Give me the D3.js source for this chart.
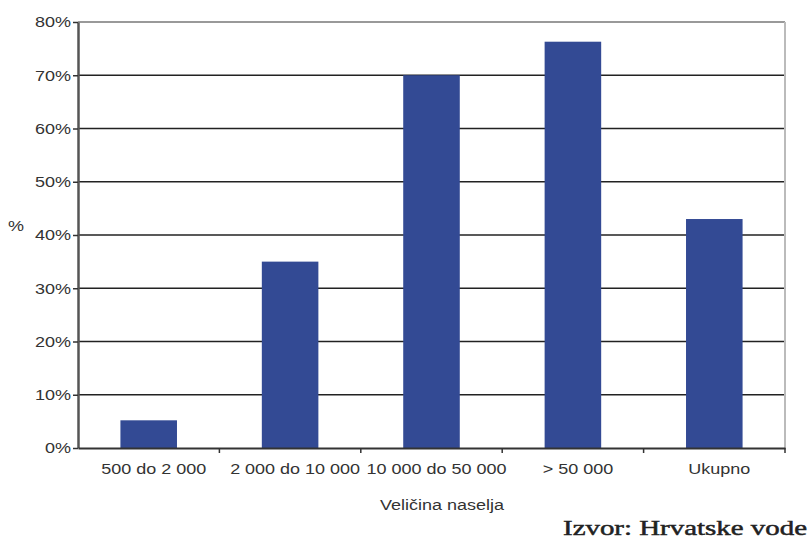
<!DOCTYPE html>
<html>
<head>
<meta charset="utf-8">
<script src="https://cdn.jsdelivr.net/npm/d3@7"></script>
<style>
  body { margin: 0; background: #fff; }
</style>
</head>
<body>
<div id="chart"></div>
<script>
// data
let categories = ["500 do 2 000", "2 000 do 10 000", "10 000 do 50 000", "> 50 000", "Ukupno"];
let values = [5.2, 35, 70, 76.3, 43];
let yTicks = [0, 10, 20, 30, 40, 50, 60, 70, 80];

let margin = {top: 22, right: 24, bottom: 91, left: 78};
let width = 809 - margin.left - margin.right;
let height = 539 - margin.top - margin.bottom;
let sans = "Liberation Sans, Arial, sans-serif";
let stretch = 1.2;

let svg = d3.select("#chart").append("svg")
    .attr("width", 809)
    .attr("height", 539);

let g = svg.append("g")
    .attr("transform", "translate(" + margin.left + "," + margin.top + ")");

let x = d3.scaleBand()
    .domain(categories)
    .range([0, width])
    .paddingInner(0.6)
    .paddingOuter(0.3);

let y = d3.scaleLinear()
    .domain([0, 80])
    .range([height, 0]);

// gridlines
g.selectAll(".grid")
    .data(yTicks.filter(d => d > 0))
    .enter().append("line")
    .attr("x1", 0)
    .attr("x2", width)
    .attr("y1", d => y(d))
    .attr("y2", d => y(d))
    .attr("stroke", d => d === 80 ? "#999" : "#222")
    .attr("stroke-width", d => d === 80 ? 2 : 1.4);

// right border
g.append("line")
    .attr("x1", width).attr("x2", width)
    .attr("y1", 0).attr("y2", height)
    .attr("stroke", "#bbb")
    .attr("stroke-width", 2);

// bars
g.selectAll(".bar")
    .data(values)
    .enter().append("rect")
    .attr("x", (d, i) => x(categories[i]))
    .attr("y", d => y(d))
    .attr("width", x.bandwidth())
    .attr("height", d => height - y(d))
    .attr("fill", "#334a94");

// y axis
let yAxis = g.append("g")
    .call(d3.axisLeft(y).tickValues(yTicks).tickFormat(d => d + "%").tickSize(5).tickSizeOuter(0));
yAxis.select(".domain").attr("stroke", "#555").attr("stroke-width", 2.5);
yAxis.selectAll(".tick line").attr("stroke", "#333").attr("stroke-width", 1.5);
yAxis.selectAll(".tick text")
    .attr("font-size", 15)
    .attr("font-family", sans)
    .attr("fill", "#333")
    .attr("x", -7 / stretch)
    .attr("transform", "scale(" + stretch + ",1)");

// x axis
let xAxis = g.append("g")
    .attr("transform", "translate(0," + height + ")")
    .call(d3.axisBottom(x).tickSize(0).tickSizeOuter(0));
xAxis.select(".domain").attr("stroke", "#333").attr("stroke-width", 2);
xAxis.selectAll(".tick text")
    .attr("font-size", 15)
    .attr("font-family", sans)
    .attr("fill", "#333")
    .attr("dy", "0")
    .attr("y", 26)
    .attr("x", 5 / stretch)
    .attr("transform", "scale(" + stretch + ",1)");

// tick marks between categories
let step = x.step();
g.selectAll(".xtick")
    .data(categories)
    .enter().append("line")
    .attr("x1", d => x(d) + x.bandwidth() / 2 + step / 2)
    .attr("x2", d => x(d) + x.bandwidth() / 2 + step / 2)
    .attr("y1", height)
    .attr("y2", height + 5)
    .attr("stroke", "#333")
    .attr("stroke-width", 1.5);

// axis titles
svg.append("text")
    .attr("transform", "translate(16,231) scale(" + stretch + ",1)")
    .attr("text-anchor", "middle")
    .attr("font-size", 15)
    .attr("font-family", sans)
    .attr("fill", "#333")
    .text("%");

svg.append("text")
    .attr("transform", "translate(442,510) scale(" + stretch + ",1)")
    .attr("text-anchor", "middle")
    .attr("font-size", 15)
    .attr("font-family", sans)
    .attr("fill", "#333")
    .text("Veličina naselja");

svg.append("text")
    .attr("x", 563)
    .attr("y", 535)
    .attr("font-size", 22)
    .attr("font-family", "Liberation Serif, DejaVu Serif, serif")
    .attr("fill", "#222")
    .attr("stroke", "#222")
    .attr("stroke-width", 0.5)
    .attr("textLength", 244)
    .attr("lengthAdjust", "spacingAndGlyphs")
    .text("Izvor: Hrvatske vode");
</script>
</body>
</html>
